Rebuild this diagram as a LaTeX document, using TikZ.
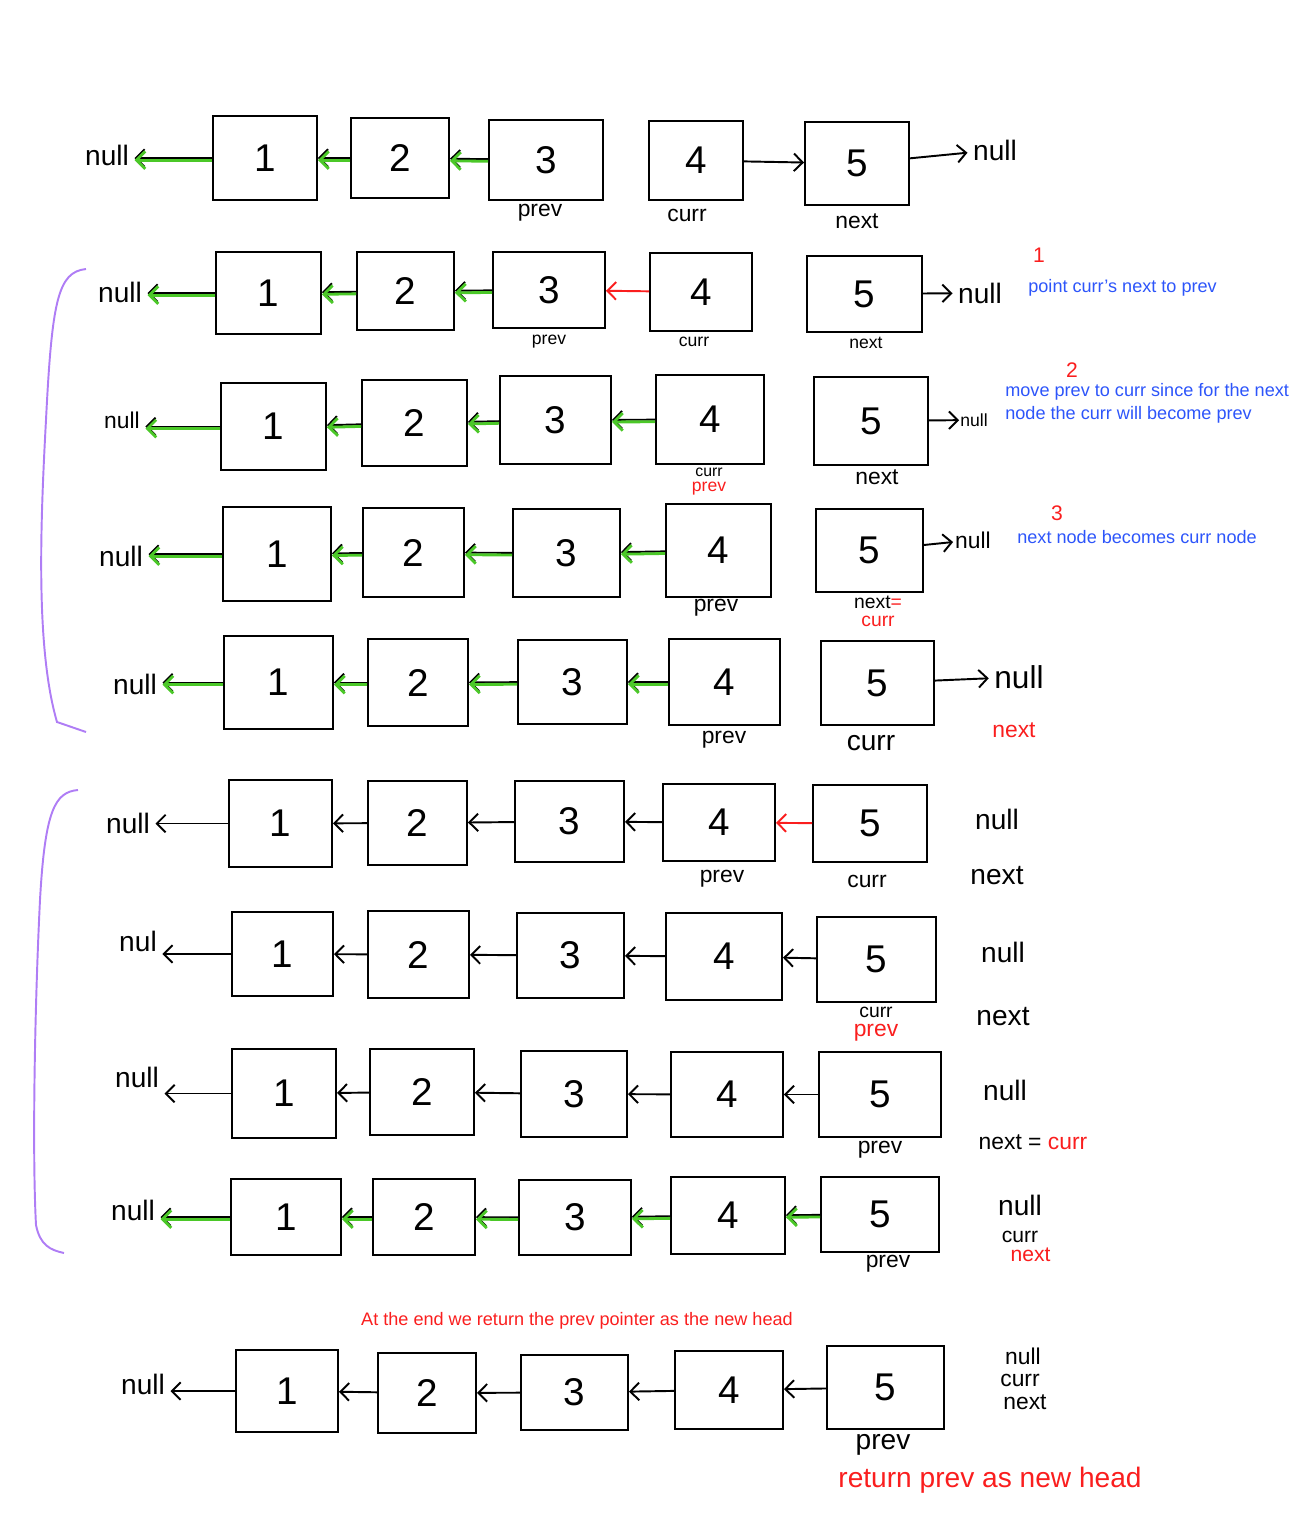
\documentclass[tikz,border=0pt]{standalone}
\usepackage{fontspec}
\setmainfont{Liberation Sans}
\usetikzlibrary{positioning,arrows.meta}

\definecolor{hgreen}{RGB}{75,200,40}
\definecolor{hred}{RGB}{250,30,30}
\definecolor{hblue}{RGB}{45,85,250}
\definecolor{hpurple}{RGB}{175,125,245}

\begin{document}
\begin{tikzpicture}[
  x=0.02cm, y=-0.02cm,
  cell/.style={draw, line width=1.1pt, inner sep=0pt, font=\fontsize{22}{24}\selectfont},
  sz/.style 2 args={minimum width=#1*0.02cm, minimum height=#2*0.02cm},
  nul/.style={font=\fontsize{16}{18}\selectfont, inner sep=3pt},
  lab/.style={font=\fontsize{13}{15}\selectfont, inner sep=1pt},
  lab2/.style={font=\fontsize{10}{11}\selectfont, inner sep=0.5pt},
  tag/.style={font=\fontsize{12}{14}\selectfont, text=hred, inner sep=0pt},
  note/.style={font=\fontsize{10.3}{13}\selectfont, text=hblue, align=left, anchor=west, inner sep=0pt},
  arr/.style={-{Straight Barb[length=5pt,width=10pt]}, line width=1.1pt},
  garr/.style={arr, line width=1.6pt, draw=hgreen, transform canvas={yshift=-1.2pt}},
  rarr/.style={arr, draw=hred},
  bline/.style={draw=hpurple, line width=1.1pt},
]
\useasboundingbox (0,0) rectangle (1312,1526);

% row 1: starting list
\foreach \k/\cx/\cy/\w/\h in {1/265/158/104/84, 2/400/158/98/80, 3/546/160/114/80, 4/696/160.5/94/79, 5/857/163.5/104/83}
  \node[cell, sz={\w}{\h}] (a\k) at (\cx,\cy) {\k};
\node[nul] (anl) at (107,155) {null};
\node[nul] (anr) at (995,150) {null};
\node[lab] at (540,213) {prev};
\node[lab] at (687,215) {curr};
\node[lab] at (857,221) {next};
\draw[arr] (a1.west) -- (anl.east |- a1.west);
\draw[garr] (a1.west) -- (anl.east |- a1.west);
\foreach \s/\t in {a2/a1, a3/a2} {
  \draw[arr] (\s) -- (\t);
  \draw[garr] (\s) -- (\t);
}
\draw[arr] (a4) -- (a5);
\draw[arr] (a5) -- (anr);

% row 2: point curr's next to prev
\foreach \k/\cx/\cy/\w/\h in {1/268.5/293/105/82, 2/405.5/291/97/78, 3/549/290/112/76, 4/701/292/102/78, 5/864.5/294/115/76}
  \node[cell, sz={\w}{\h}] (b\k) at (\cx,\cy) {\k};
\node[nul] (bnl) at (120,292) {null};
\node[nul] (bnr) at (980,293) {null};
\node[lab2] at (549,342) {prev};
\node[lab2] at (694,342) {curr};
\node[lab2] at (866,343) {next};
\draw[arr] (b1.west) -- (bnl.east |- b1.west);
\draw[garr] (b1.west) -- (bnl.east |- b1.west);
\foreach \s/\t in {b2/b1, b3/b2} {
  \draw[arr] (\s) -- (\t);
  \draw[garr] (\s) -- (\t);
}
\draw[rarr] (b4) -- (b3);
\draw[arr] (b5) -- (bnr);
\node[tag] (t1) at (1039,255) {1};
\node[note] (n1) at (1028,288) {point curr’s next to prev};

% row 3: move prev
\foreach \k/\cx/\cy/\w/\h in {1/273.5/426.5/105/87, 2/414.5/423/105/86, 3/555.5/420/111/88, 4/710/419.5/108/89, 5/871/421/114/88}
  \node[cell, sz={\w}{\h}] (c\k) at (\cx,\cy) {\k};
\node[nul, font=\fontsize{13}{15}\selectfont] (cnl) at (122,420) {null};
\node[lab2] (cnr) at (974,420) {null};
\node[lab2, font=\fontsize{9}{10}\selectfont] (cc) at (709,472) {curr};
\node[lab2, text=hred, font=\fontsize{10}{11}\selectfont, below=2pt of cc] {prev};
\node[lab] at (877,477) {next};
\draw[arr] (c1.west) -- (cnl.east |- c1.west);
\draw[garr] (c1.west) -- (cnl.east |- c1.west);
\foreach \s/\t in {c2/c1, c3/c2, c4/c3} {
  \draw[arr] (\s) -- (\t);
  \draw[garr] (\s) -- (\t);
}
\draw[arr] (c5) -- (cnr);
\node[tag] (t2) at (1072,370) {2};
\node[note] (n2) at (1005,403.5) {move prev to curr since for the next\\node the curr will become prev};

% row 4: move curr
\foreach \k/\cx/\cy/\w/\h in {1/277/554/108/94, 2/413.5/552.5/101/89, 3/566.5/553/107/88, 4/718.5/550.5/105/93, 5/869.5/550.5/107/83}
  \node[cell, sz={\w}{\h}] (d\k) at (\cx,\cy) {\k};
\node[nul] (dnl) at (121,556) {null};
\node[lab] (dnr) at (973,540) {null};
\node[lab] at (716,608) {prev};
\node[lab, font=\fontsize{11}{12}\selectfont] (dn) at (878,602) {next{\color{hred}=}};
\node[lab, text=hred, font=\fontsize{11}{12}\selectfont, below=2pt of dn] {curr};
\draw[arr] (d1.west) -- (dnl.east |- d1.west);
\draw[garr] (d1.west) -- (dnl.east |- d1.west);
\foreach \s/\t in {d2/d1, d3/d2, d4/d3} {
  \draw[arr] (\s) -- (\t);
  \draw[garr] (\s) -- (\t);
}
\draw[arr] (d5) -- (dnr);
\node[tag] (t3) at (1057,513) {3};
\node[note] (n3) at (1017,537) {next node becomes curr node};

% row 5
\foreach \k/\cx/\cy/\w/\h in {1/278.5/682.5/109/93, 2/418/682.5/100/87, 3/572.5/682/109/84, 4/724.5/682/111/86, 5/877.5/683/113/84}
  \node[cell, sz={\w}{\h}] (e\k) at (\cx,\cy) {\k};
\node[nul] (enl) at (135,684) {null};
\node[nul, font=\fontsize{18}{20}\selectfont] (enr) at (1019,677) {null};
\node[lab] at (724,740) {prev};
\node[nul] at (871,743) {curr};
\node[lab, text=hred] at (1014,730) {next};
\draw[arr] (e1.west) -- (enl.east |- e1.west);
\draw[garr] (e1.west) -- (enl.east |- e1.west);
\foreach \s/\t in {e2/e1, e3/e2, e4/e3} {
  \draw[arr] (\s) -- (\t);
  \draw[garr] (\s) -- (\t);
}
\draw[arr] (e5) -- (enr);

\draw[bline] (86,269) .. controls (58,272) and (52,300) .. (46,420) .. controls (40,530) and (36,650) .. (57,722) -- (86,732);

% row 6
\foreach \k/\cx/\cy/\w/\h in {1/280.5/823.5/103/87, 2/417.5/823/99/84, 3/569.5/821.5/109/81, 4/719/822.5/112/77, 5/870/823.5/114/77}
  \node[cell, sz={\w}{\h}] (f\k) at (\cx,\cy) {\k};
\node[nul] (fnl) at (128,823) {null};
\node[nul] at (997,819) {null};
\node[nul] at (997,876) {next};
\node[lab] at (722,879) {prev};
\node[lab] at (867,881) {curr};
\draw[arr] (f1.west) -- (fnl.east |- f1.west);
\foreach \s/\t in {f2/f1, f3/f2, f4/f3}
  \draw[arr] (\s) -- (\t);
\draw[rarr] (f5) -- (f4);

% row 7
\foreach \k/\cx/\cy/\w/\h in {1/282.5/954/101/84, 2/418.5/954.5/101/87, 3/570.5/955.5/107/85, 4/724/956.5/116/87, 5/876.5/959.5/119/85}
  \node[cell, sz={\w}{\h}] (g\k) at (\cx,\cy) {\k};
\node[nul] (gnl) at (138,941) {nul};
\node[nul] at (1003,952) {null};
\node[nul] at (1003,1017) {next};
\node[lab, font=\fontsize{11}{12}\selectfont] (gc) at (876,1012) {curr};
\node[lab, text=hred, below=1.5pt of gc] {prev};
\draw[arr] (g1.west) -- (gnl.east |- g1.west);
\foreach \s/\t in {g2/g1, g3/g2, g4/g3, g5/g4}
  \draw[arr] (\s) -- (\t);

% row 8
\foreach \k/\cx/\cy/\w/\h in {1/284/1093.5/104/89, 2/422/1092/104/86, 3/574/1094/106/86, 4/727/1094.5/112/85, 5/880/1094.5/122/85}
  \node[cell, sz={\w}{\h}] (h\k) at (\cx,\cy) {\k};
\node[nul] (hnl) at (137,1077) {null};
\node[nul] at (1005,1090) {null};
\node[lab] at (1033,1142) {next = {\color{hred}curr}};
\node[lab] at (880,1150) {prev};
\draw[arr] (h1.west) -- (hnl.east |- h1.west);
\foreach \s/\t in {h2/h1, h3/h2, h4/h3, h5/h4}
  \draw[arr] (\s) -- (\t);

% row 9
\foreach \k/\cx/\cy/\w/\h in {1/286/1217/110/76, 2/424/1217/102/76, 3/575/1217.5/112/75, 4/728/1215.5/114/77, 5/880/1214.5/118/75}
  \node[cell, sz={\w}{\h}] (i\k) at (\cx,\cy) {\k};
\node[nul] (inl) at (133,1210) {null};
\node[nul] (ir1) at (1020,1205) {null};
\node[lab, font=\fontsize{12}{13}\selectfont] (ir2) at (1020,1237) {curr};
\node[lab, text=hred, font=\fontsize{12}{13}\selectfont, below=0.5pt of ir2, xshift=6pt] {next};
\node[lab] at (888,1264) {prev};
\draw[arr] (i1.west) -- (inl.east |- i1.west);
\draw[garr] (i1.west) -- (inl.east |- i1.west);
\foreach \s/\t in {i2/i1, i3/i2, i4/i3, i5/i4} {
  \draw[arr] (\s) -- (\t);
  \draw[garr] (\s) -- (\t);
}

\draw[bline] (78,790) .. controls (55,792) and (45,810) .. (40,900) .. controls (35,1000) and (32,1150) .. (36,1225) .. controls (40,1245) and (50,1250) .. (64,1253);

% row 10: result
\node[note, text=hred, anchor=center] (fin) at (577,1321) {At the end we return the prev pointer as the new head};
\foreach \k/\cx/\cy/\w/\h in {1/287/1391/102/82, 2/427/1393/98/80, 3/574.5/1392.5/107/75, 4/729/1390/108/78, 5/885.5/1387.5/117/83}
  \node[cell, sz={\w}{\h}] (j\k) at (\cx,\cy) {\k};
\node[nul] (jnl) at (143,1384) {null};
\node[lab] at (1023,1356) {null};
\node[lab] at (1020,1380) {curr};
\node[lab] at (1025,1402) {next};
\node[nul] at (883,1445) {prev};
\draw[arr] (j1.west) -- (jnl.east |- j1.west);
\foreach \s/\t in {j2/j1, j3/j2, j4/j3, j5/j4}
  \draw[arr] (\s) -- (\t);
\node[nul, text=hred] (ret) at (990,1480) {return prev as new head};
\end{tikzpicture}
\end{document}
